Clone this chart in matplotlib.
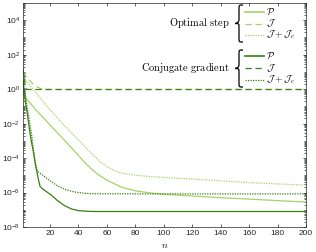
import numpy as np
import matplotlib
matplotlib.use("Agg")
import matplotlib.pyplot as plt
from matplotlib.path import Path
from matplotlib.patches import PathPatch
from matplotlib.transforms import Affine2D
from matplotlib.ticker import FixedLocator, LogLocator, NullFormatter, LogFormatterSciNotation

plt.rcParams['font.family'] = ['Liberation Sans', 'DejaVu Sans']
plt.rcParams['mathtext.fontset'] = 'custom'
plt.rcParams['mathtext.rm'] = 'Liberation Sans'
plt.rcParams['mathtext.it'] = 'Liberation Sans:italic'
plt.rcParams['mathtext.bf'] = 'Liberation Sans:bold'

# ---------------- data (log10 of values) ----------------
n_P_opt = [1, 5, 10, 20, 30, 40, 45, 50, 55, 60, 70, 80, 90, 100, 120, 140, 160, 180, 200]
P_opt_log = [-0.35, -0.7, -1.2, -2.08, -2.95, -3.85, -4.3, -4.7, -5.02, -5.28, -5.68, -5.9, -6.02, -6.1, -6.2, -6.3, -6.38, -6.47, -6.55]

n_J_opt = [1, 3, 5, 8, 10, 13, 15, 20, 50, 100, 150, 200]
J_opt_log = [1.0, 0.75, 0.55, 0.3, 0.17, 0.05, 0.0, -0.02, -0.02, -0.02, -0.02, -0.02]

n_JJc_opt = [1, 3, 5, 10, 20, 30, 40, 50, 55, 60, 65, 70, 80, 90, 100, 120, 140, 160, 180, 200]
JJc_opt_log = [0.45, 0.5, 0.3, -0.2, -1.21, -2.1, -2.95, -3.8, -4.2, -4.5, -4.72, -4.87, -5.0, -5.07, -5.12, -5.22, -5.32, -5.42, -5.5, -5.57]

n_P_cg = [1, 2, 3, 4, 5, 6, 7, 8, 9, 10, 11, 12, 13, 15, 18, 21, 25, 30, 35, 40, 45, 50, 100, 150, 200]
P_cg_log = [0.5, -0.3, -0.9, -1.4, -2.0, -2.6, -3.1, -3.5, -4.0, -4.5, -4.9, -5.3, -5.65, -5.8, -5.98, -6.15, -6.45, -6.75, -6.95, -7.05, -7.08, -7.1, -7.1, -7.1, -7.1]

n_J_cg = [1, 2, 3, 4, 10, 50, 100, 150, 200]
J_cg_log = [1.2, 0.5, 0.05, -0.02, -0.02, -0.02, -0.02, -0.02, -0.02]

n_JJc_cg = [1, 2, 3, 4, 5, 6, 7, 8, 9, 10, 11, 12, 15, 19, 25, 30, 35, 40, 45, 50, 100, 150, 200]
JJc_cg_log = [0.5, 0.0, -0.5, -1.1, -1.6, -2.1, -2.6, -3.3, -3.9, -4.4, -4.7, -4.82, -5.0, -5.26, -5.6, -5.8, -5.93, -6.0, -6.05, -6.07, -6.08, -6.08, -6.08]

x_ticks = [20, 40, 60, 80, 100, 120, 140, 160, 180, 200]
y_ticks = [1e-8, 1e-6, 1e-4, 1e-2, 1e0, 1e2, 1e4]

group_names = [r"$\mathrm{Optimal\ step}$", r"$\mathrm{Conjugate\ gradient}$"]
entry_labels = [r"$\mathcal{P}$", r"$\mathcal{J}$", r"$\mathcal{J}+\mathcal{J}_c$"]

light = '#a3d468'
dark = '#3a7f12'

W, H = 316, 252
fig = plt.figure(figsize=(W / 100, H / 100), dpi=100)
ax = fig.add_axes([23 / W, 1 - 227 / H, (306 - 23) / W, (227 - 3) / H])

lw = 0.9
ax.plot(n_P_opt, 10 ** np.array(P_opt_log), color=light, lw=lw, ls='-')
ax.plot(n_J_opt, 10 ** np.array(J_opt_log), color=light, lw=lw, ls=(0, (5, 3)))
ax.plot(n_JJc_opt, 10 ** np.array(JJc_opt_log), color=light, lw=lw, ls=(0, (1, 1)))
ax.plot(n_P_cg, 10 ** np.array(P_cg_log), color=dark, lw=lw, ls='-')
ax.plot(n_J_cg, 10 ** np.array(J_cg_log), color=dark, lw=lw, ls=(0, (5, 3)))
ax.plot(n_JJc_cg, 10 ** np.array(JJc_cg_log), color=dark, lw=lw, ls=(0, (1, 1)))

ax.set_yscale('log')
ax.set_xlim(1, 200)
ax.set_ylim(1e-8, 1e5)
ax.xaxis.set_major_locator(FixedLocator(x_ticks))
ax.yaxis.set_major_locator(FixedLocator(y_ticks))
ax.yaxis.set_major_formatter(LogFormatterSciNotation())
ax.yaxis.set_minor_locator(LogLocator(base=10, subs=np.arange(1, 10), numticks=200))
ax.yaxis.set_minor_formatter(NullFormatter())

tc = '#262626'
for s in ax.spines.values():
    s.set_color(tc)
    s.set_linewidth(0.5)
ax.tick_params(which='both', direction='in', top=True, right=True, colors=tc,
               labelsize=6, width=0.5, pad=2)
ax.tick_params(which='major', length=2.5)
ax.tick_params(which='minor', length=1.3)

ax.set_xlabel(r"$n$", math_fontfamily='cm', fontsize=7, labelpad=2)

# ---------------- custom legend ----------------
T = Affine2D().scale(1 / W, -1 / H).translate(0, 1) + fig.transFigure


def brace(x_right, y_top, y_bot, w=8.0):
    xm = x_right - w / 2
    xt = x_right - w
    ym = (y_top + y_bot) / 2
    r = 4.0
    codes = [Path.MOVETO, Path.CURVE4, Path.CURVE4, Path.CURVE4,
             Path.LINETO,
             Path.CURVE4, Path.CURVE4, Path.CURVE4,
             Path.CURVE4, Path.CURVE4, Path.CURVE4,
             Path.LINETO,
             Path.CURVE4, Path.CURVE4, Path.CURVE4]
    verts = [(x_right, y_top),
             (xm, y_top), (xm, y_top), (xm, y_top + r),
             (xm, ym - r),
             (xm, ym), (xt, ym), (xt, ym),
             (xm, ym), (xm, ym), (xm, ym + r),
             (xm, y_bot - r),
             (xm, y_bot), (xm, y_bot), (x_right, y_bot)]
    p = PathPatch(Path(verts, codes), transform=T, fill=False, lw=0.9, color='black')
    fig.add_artist(p)


groups = [
    dict(name=group_names[0], color=light, ys=[12, 23.5, 35], top=5, bot=42, ty=23.5),
    dict(name=group_names[1], color=dark, ys=[56, 68, 80], top=50, bot=87, ty=68),
]
styles = ['-', (0, (5, 3)), (0, (1, 1))]
for g in groups:
    fig.text(230 / W, 1 - g['ty'] / H, g['name'], ha='right', va='center',
             fontsize=7.5, math_fontfamily='cm')
    brace(243, g['top'], g['bot'])
    for y, st, lab in zip(g['ys'], styles, entry_labels):
        fig.add_artist(plt.Line2D([245 / W, 264 / W], [1 - y / H, 1 - y / H],
                                  color=g['color'], lw=1.2 if st == '-' else 0.9, ls=st))
        fig.text(266 / W, 1 - y / H, lab, ha='left', va='center', fontsize=7,
                 math_fontfamily='cm')

fig.savefig('out.png', dpi=100)
